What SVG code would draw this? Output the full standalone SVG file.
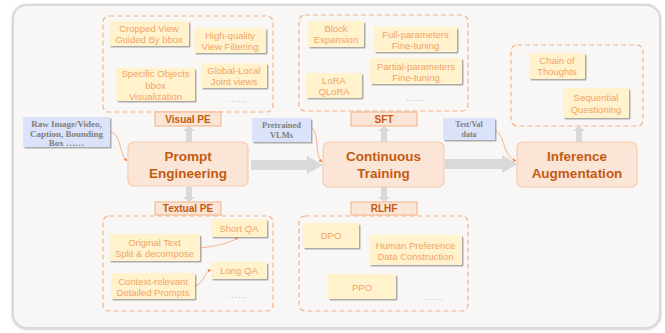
<svg xmlns="http://www.w3.org/2000/svg" width="665" height="333" viewBox="0 0 665 333">
<defs>
<filter id="sh" x="-20%" y="-20%" width="150%" height="160%">
<feDropShadow dx="1.5" dy="1.5" stdDeviation="0.7" flood-color="#8a8a8a" flood-opacity="0.7"/>
</filter>
<filter id="fsh" x="-5%" y="-5%" width="110%" height="110%">
<feDropShadow dx="0" dy="0.5" stdDeviation="1" flood-color="#999" flood-opacity="0.6"/>
</filter>
<marker id="ah" viewBox="0 0 6 6" refX="5" refY="3" markerWidth="5" markerHeight="5" orient="auto">
<path d="M0,0.5 L6,3 L0,5.5 z" fill="#ee8a50"/>
</marker>
</defs>
<style>
.item{fill:#fff2cc;filter:url(#sh);rx:1.5px}
.it{font-family:"Liberation Sans",Arial,sans-serif;font-size:9.5px;fill:#f2a46a;text-anchor:middle;dominant-baseline:central}
.dash{fill:none;stroke:#f4b183;stroke-width:1.2;stroke-dasharray:5 3}
.lbl{fill:#fbe5d6;stroke:#f4b183;stroke-width:1}
.lt{font-family:"Liberation Sans",Arial,sans-serif;font-size:10px;font-weight:bold;fill:#c55a11;text-anchor:middle;dominant-baseline:central}
.main{fill:#fbe5d6;stroke:#f8cbad;stroke-width:1.2}
.mt{font-family:"Liberation Sans",Arial,sans-serif;font-size:13.5px;font-weight:bold;fill:#c55a11;text-anchor:middle;dominant-baseline:central}
.blue{fill:#dae3fa;filter:url(#sh)}
.bt{font-family:"Liberation Serif","Times New Roman",serif;font-weight:bold;fill:#7f7f7f;text-anchor:middle;dominant-baseline:central}
.dots{font-family:"Liberation Sans",sans-serif;font-size:8px;fill:#a6a6a6;text-anchor:middle;letter-spacing:1px}
.big{fill:#d9d9d9}
.cur{fill:none;stroke:#f4a070;stroke-width:0.8;marker-end:url(#ah)}
</style>
<rect x="13" y="5" width="647" height="323" rx="14" fill="#f8f7f6" stroke="#d9d9d9" stroke-width="2" filter="url(#fsh)"/>

<g id="connectors">
<path class="big" d="M251,160 L307,160 L307,156 L323,165 L307,174 L307,170 L251,170 z"/>
<path class="big" d="M445,159 L502,159 L502,155 L517,164 L502,173 L502,169 L445,169 z"/>
<path class="big" d="M186,142 L186,131 L183,131 L189,126 L195,131 L192,131 L192,142 z"/>
<path class="big" d="M186,187 L186,197 L183,197 L189,202 L195,197 L192,197 L192,187 z"/>
<path class="big" d="M381,142 L381,131 L378,131 L384,126 L390,131 L387,131 L387,142 z"/>
<path class="big" d="M381,187 L381,197 L378,197 L384,202 L390,197 L387,197 L387,187 z"/>
<path class="big" d="M576,142 L576,131 L573,131 L579,126 L585,131 L582,131 L582,142 z"/>
<path class="cur" d="M110,132 C122,134 118,152 127,161"/>
<path class="cur" d="M311,127 C320,132 314,155 322,162"/>
<path class="cur" d="M495,130 C506,136 502,156 516,161"/>
<path class="cur" d="M200,248 C215,246 230,244 238,237"/>
<path class="cur" d="M195,286 C205,283 203,272 211,270"/>
</g>

<g id="visual-pe">
<rect class="dash" x="103" y="16" width="170" height="96" rx="6"/>
<rect class="item" x="109" y="21" width="80" height="25"/>
<text class="it" x="149" y="28">Cropped View</text>
<text class="it" x="149" y="39">Guided By bbox</text>
<rect class="item" x="194" y="28" width="72" height="25"/>
<text class="it" x="230" y="35.5">High-quality</text>
<text class="it" x="230" y="46.5">View Filtering</text>
<rect class="item" x="116" y="68" width="79" height="33"/>
<text class="it" x="155.5" y="73.5">Specific Objects</text>
<text class="it" x="155.5" y="85">bbox</text>
<text class="it" x="155.5" y="96.5">Visualization</text>
<rect class="item" x="201" y="63" width="66" height="25"/>
<text class="it" x="234" y="70">Global-Local</text>
<text class="it" x="234" y="81.5">Joint views</text>
<text class="dots" x="238" y="102">......</text>
</g>
<g id="visual-pe-label">
<rect class="lbl" x="155" y="112" width="66" height="14"/>
<text class="lt" x="188" y="119">Visual PE</text>
</g>

<g id="raw-input">
<rect class="blue" x="23" y="117" width="87" height="30"/>
<text class="bt" x="66.5" y="124" font-size="9px">Raw Image/Video,</text>
<text class="bt" x="66.5" y="134" font-size="9px">Caption, Bounding</text>
<text class="bt" x="66.5" y="143" font-size="9px">Box ……</text>
</g>

<g id="prompt-engineering">
<rect class="main" x="128" y="142" width="120" height="44" rx="6"/>
<text class="mt" x="188" y="156">Prompt</text>
<text class="mt" x="188" y="173">Engineering</text>
</g>

<g id="textual-pe-label">
<rect class="lbl" x="155" y="202" width="66" height="13"/>
<text class="lt" x="188" y="208.5">Textual PE</text>
</g>
<g id="textual-pe">
<rect class="dash" x="103" y="216" width="170" height="95" rx="6"/>
<rect class="item" x="211" y="219" width="56" height="18"/>
<text class="it" x="239" y="228">Short QA</text>
<rect class="item" x="109" y="234" width="91" height="27"/>
<text class="it" x="154.5" y="242">Original Text</text>
<text class="it" x="154.5" y="253.5">Split &amp; decompose</text>
<rect class="item" x="211" y="262" width="56" height="17"/>
<text class="it" x="239" y="270.5">Long QA</text>
<rect class="item" x="111" y="273" width="84" height="26"/>
<text class="it" x="153" y="281">Context-relevant</text>
<text class="it" x="153" y="292">Detailed Prompts</text>
<text class="dots" x="238" y="298">......</text>
</g>

<g id="pretrained-vlms">
<rect class="blue" x="252" y="118" width="59" height="24"/>
<text class="bt" x="281.5" y="125" font-size="8.5px">Pretrained</text>
<text class="bt" x="281.5" y="135" font-size="8.5px">VLMs</text>
</g>

<g id="continuous-training">
<rect class="main" x="323" y="142" width="121" height="45" rx="6"/>
<text class="mt" x="383.5" y="156">Continuous</text>
<text class="mt" x="383.5" y="173">Training</text>
</g>

<g id="sft">
<rect class="dash" x="299" y="15" width="169" height="96" rx="6"/>
<rect class="item" x="308" y="21" width="56" height="26"/>
<text class="it" x="336" y="28.5">Block</text>
<text class="it" x="336" y="39.5">Expansion</text>
<rect class="item" x="374" y="27" width="83" height="25"/>
<text class="it" x="415.5" y="34">Full-parameters</text>
<text class="it" x="415.5" y="45">Fine-tuning</text>
<rect class="item" x="370" y="58" width="92" height="26"/>
<text class="it" x="416" y="66">Partial-parameters</text>
<text class="it" x="416" y="77">Fine-tuning</text>
<rect class="item" x="306" y="73" width="56" height="25"/>
<text class="it" x="334" y="80">LoRA</text>
<text class="it" x="334" y="91">QLoRA</text>
<text class="dots" x="416" y="101">......</text>
</g>
<g id="sft-label">
<rect class="lbl" x="351" y="112" width="66" height="14"/>
<text class="lt" x="384" y="119">SFT</text>
</g>

<g id="rlhf-label">
<rect class="lbl" x="351" y="202" width="66" height="13"/>
<text class="lt" x="384" y="208.5">RLHF</text>
</g>
<g id="rlhf">
<rect class="dash" x="299" y="216" width="169" height="95" rx="6"/>
<rect class="item" x="303" y="223" width="56" height="25"/>
<text class="it" x="331" y="235.5">DPO</text>
<rect class="item" x="369" y="235" width="93" height="30"/>
<text class="it" x="415.5" y="245">Human Preference</text>
<text class="it" x="415.5" y="256">Data Construction</text>
<rect class="item" x="328" y="274" width="68" height="25"/>
<text class="it" x="362" y="287">PPO</text>
<text class="dots" x="434" y="300">......</text>
</g>

<g id="test-val">
<rect class="blue" x="443" y="118" width="52" height="22"/>
<text class="bt" x="469" y="124.5" font-size="8px">Test/Val</text>
<text class="bt" x="469" y="134.5" font-size="8px">data</text>
</g>

<g id="inference-augmentation">
<rect class="main" x="517" y="142" width="120" height="45" rx="6"/>
<text class="mt" x="577" y="156">Inference</text>
<text class="mt" x="577" y="173">Augmentation</text>
</g>

<g id="inference-methods">
<rect class="dash" x="511" y="45" width="132" height="81" rx="6"/>
<rect class="item" x="529" y="53" width="56" height="26"/>
<text class="it" x="557" y="60.5">Chain of</text>
<text class="it" x="557" y="71.5">Thoughts</text>
<rect class="item" x="563" y="88" width="66" height="30"/>
<text class="it" x="596" y="97.5">Sequential</text>
<text class="it" x="596" y="109">Questioning</text>
</g>
</svg>
